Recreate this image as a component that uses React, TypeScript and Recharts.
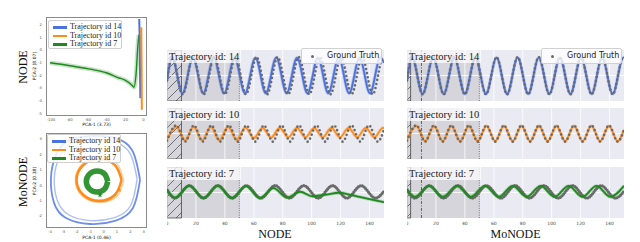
import React from 'react';
import { ComposedChart, Line, XAxis, YAxis, ReferenceArea, ReferenceLine, Scatter, ZAxis } from 'recharts';

// ---------- tick labels ----------
const timeTicks = [0, 20, 40, 60, 80, 100, 120, 140];
const pcaTopXTicks = [-100, -80, -60, -40, -20, 0];
const pcaTopYTicks = [2, 1, 0, -1, -2, -3, -4, -5];
const pcaBotXTicks = [-4, -3, -2, -1, 0, 1, 2, 3];
const pcaBotYTicks = [3, 2, 1, 0, -1, -2];

// ---------- time series (t, value) : extremes ----------
const gt14: [number, number][] = [[0,-0.2],[3.5,0.72],[10.8,-0.74],[18.1,0.72],[25.4,-0.74],[32.7,0.72],[40,-0.74],[47.3,0.72],[54.6,-0.74],[61.9,0.72],[69.2,-0.74],[76.5,0.72],[83.8,-0.74],[91.1,0.72],[98.4,-0.74],[105.7,0.72],[113,-0.74],[120.3,0.72],[127.6,-0.74],[134.9,0.72],[142.2,-0.74],[149.5,0.72],[150,0.71]];
const nodePred14: [number, number][] = [[0,-0.22],[3.5,0.7],[10.7,-0.7],[17.9,0.7],[25.1,-0.7],[32.3,0.7],[39.5,-0.7],[46.7,0.7],[53.9,-0.7],[61.1,0.7],[68.3,-0.7],[75.5,0.7],[82.7,-0.7],[89.9,0.7],[97.1,-0.7],[104.3,0.7],[111.5,-0.7],[118.7,0.7],[125.9,-0.7],[133.1,0.7],[140.3,-0.7],[147.5,0.7],[150,0.5]];
const moPred14: [number, number][] = [[0,-0.2],[3.5,0.7],[10.8,-0.72],[18.1,0.7],[25.4,-0.72],[32.7,0.7],[40,-0.72],[47.3,0.7],[54.6,-0.72],[61.9,0.7],[69.2,-0.72],[76.5,0.7],[83.8,-0.72],[91.1,0.7],[98.4,-0.72],[105.7,0.7],[113,-0.72],[120.3,0.7],[127.6,-0.72],[134.9,0.7],[142.2,-0.72],[149.5,0.7],[150,0.69]];

const gt10: [number, number][] = [[0,-0.28],[6.5,0.32],[12.55,-0.32],[18.6,0.32],[24.65,-0.32],[30.7,0.32],[36.75,-0.32],[42.8,0.32],[48.85,-0.32],[54.9,0.32],[60.95,-0.32],[67,0.32],[73.05,-0.32],[79.1,0.32],[85.15,-0.32],[91.2,0.32],[97.25,-0.32],[103.3,0.32],[109.35,-0.32],[115.4,0.32],[121.45,-0.32],[127.5,0.32],[133.55,-0.32],[139.6,0.32],[145.65,-0.32],[150,0.15]];
const nodePred10: [number, number][] = [[0,-0.25],[6.5,0.27],[12.45,-0.27],[18.4,0.27],[24.35,-0.27],[30.3,0.27],[36.25,-0.27],[42.2,0.27],[48.15,-0.25],[54.1,0.24],[60.05,-0.18],[66,0.22],[71.95,-0.16],[77.9,0.22],[83.85,-0.15],[89.8,0.22],[95.75,-0.15],[101.7,0.22],[107.65,-0.15],[113.6,0.22],[119.55,-0.15],[125.5,0.22],[131.45,-0.15],[137.4,0.22],[143.35,-0.15],[149.3,0.22],[150,0.21]];
const moPred10: [number, number][] = [[0,-0.25],[6.5,0.3],[12.55,-0.3],[18.6,0.3],[24.65,-0.3],[30.7,0.3],[36.75,-0.3],[42.8,0.3],[48.85,-0.3],[54.9,0.3],[60.95,-0.3],[67,0.3],[73.05,-0.3],[79.1,0.3],[85.15,-0.3],[91.2,0.3],[97.25,-0.3],[103.3,0.3],[109.35,-0.3],[115.4,0.3],[121.45,-0.3],[127.5,0.3],[133.55,-0.3],[139.6,0.3],[145.65,-0.3],[150,0.14]];

const gt7: [number, number][] = [[0,0.1],[5.5,-0.22],[15.4,0.27],[25.3,-0.22],[35.2,0.27],[45.1,-0.22],[55,0.27],[64.9,-0.22],[74.8,0.27],[84.7,-0.22],[94.6,0.27],[104.5,-0.22],[114.4,0.27],[124.3,-0.22],[134.2,0.27],[144.1,-0.22],[150,0.05]];
const nodePred7: [number, number][] = [[0,0.12],[5.5,-0.2],[15.4,0.27],[25.2,-0.22],[35,0.27],[44.8,-0.22],[54.5,0.25],[64.2,-0.22],[73.5,0.17],[83,-0.2],[92,0.03],[100.5,-0.15],[110,-0.08],[119,-0.01],[126,-0.08],[133,-0.17],[140,-0.26],[150,-0.38]];
const moPred7: [number, number][] = [[0,0.13],[5.5,-0.17],[15.2,0.26],[24.8,-0.17],[34.5,0.26],[44.1,-0.17],[53.8,0.26],[63.4,-0.17],[73.1,0.26],[82.7,-0.17],[92.4,0.26],[102,-0.17],[111.7,0.26],[121.3,-0.17],[131,0.26],[140.6,-0.17],[150,0.26]];

// ---------- PCA trajectories (pca1, pca2) ----------
const nodeGreen: [number, number][] = [[-101,-1.0],[-84,-1.18],[-65,-1.42],[-47,-1.66],[-39.5,-1.81],[-27.6,-2.17],[-20,-2.37],[-12.4,-2.77],[-10.3,-2.93],[-8.1,-1.97],[-6,0.41],[-4.9,1.2]];
const nodeBlue: [number, number][] = [[-4.6,2.45],[-4.3,1.6],[-4.0,0.4],[-3.8,-1.2],[-3.6,-2.6],[-3.4,-3.8]];
const nodeOrange: [number, number][] = [[-2.4,1.8],[-2.2,0.2],[-2.0,-1.5],[-1.9,-3.2],[-1.8,-4.7]];

const moBlueA: [number, number][] = [[2.72,0.34],[2.12,2.29],[0.85,3.07],[-0.64,3.2],[-2.51,2.94],[-3.55,1.96],[-3.93,0.47],[-3.7,-1.15],[-2.81,-2.13],[-1.02,-2.52],[0.85,-2.32],[2.19,-1.48],[2.72,0.34]];
const moBlueB: [number, number][] = [[2.5,0.4],[1.95,2.1],[0.75,2.85],[-0.65,2.98],[-2.35,2.75],[-3.3,1.85],[-3.68,0.45],[-3.45,-1.0],[-2.62,-1.92],[-0.98,-2.3],[0.75,-2.12],[2.0,-1.35],[2.5,0.4]];
const moOrangeA: [number, number][] = [[1.34,0.34],[0.85,1.3],[-0.34,1.7],[-1.53,1.3],[-2.02,0.34],[-1.53,-0.62],[-0.34,-1.02],[0.85,-0.62],[1.34,0.34]];
const moOrangeB: [number, number][] = [[1.5,0.3],[1.0,1.4],[-0.3,1.82],[-1.6,1.38],[-2.12,0.3],[-1.6,-0.7],[-0.3,-1.12],[1.0,-0.72],[1.5,0.3]];
const moGreen: [number, number][] = [[0.31,0.24],[0.08,0.72],[-0.49,0.92],[-1.06,0.72],[-1.29,0.24],[-1.06,-0.24],[-0.49,-0.44],[0.08,-0.24],[0.31,0.24]];
const moEndOrange: [number, number][] = [[1.15,-0.31]];
const moEndGreen: [number, number][] = [[-0.27,-0.64]];

const legendItems = [
  { label: 'Trajectory id 14', color: '#4a72e2' },
  { label: 'Trajectory id 10', color: '#ff8c1a' },
  { label: 'Trajectory id 7', color: '#1e8a1e' },
];

const BLUE = '#4a72e2';
const ORANGE = '#ff8c1a';
const GREEN = '#1e8a1e';
const GT = '#6a6a6a';

const tsRows = (p: [number, number][]) => p.map(([t, v]) => ({ t, v }));
const xyRows = (p: [number, number][]) => p.map(([x, y]) => ({ x, y }));

const SERIF = '"Liberation Serif", "Times New Roman", serif';
const SANS = '"DejaVu Sans", sans-serif';

type PanelProps = {
  left: number; top: number; showAxis: boolean; gt: [number, number][]; pred: [number, number][];
  color: string; label: string; hatchEnd: number; dashDot: boolean; legend: boolean; gtOnTop: boolean; thickGt: boolean;
};

function Panel(p: PanelProps) {
  const h = 51 + (p.showAxis ? 12 : 0);
  const gtLine = (
    <Line key="gt" data={tsRows(p.gt)} dataKey="v" type="monotone" stroke={GT}
      strokeWidth={p.thickGt ? 3.2 : 2.6} strokeDasharray={p.thickGt ? '0 2.2' : '0 4.2'} strokeLinecap="round"
      dot={false} isAnimationActive={false} />
  );
  const predLines = [
    <Line key="pw" data={tsRows(p.pred)} dataKey="v" type="monotone" stroke={p.color} strokeOpacity={0.3}
      strokeWidth={3.4} dot={false} isAnimationActive={false} />,
    <Line key="p" data={tsRows(p.pred)} dataKey="v" type="monotone" stroke={p.color}
      strokeWidth={1.8} dot={false} isAnimationActive={false} />,
  ];
  return (
    <div style={{ position: 'absolute', left: p.left, top: p.top, width: 217, height: h }}>
      <ComposedChart width={217} height={h} margin={{ top: 0, right: 0, bottom: 0, left: 0 }}>
        <XAxis dataKey="t" type="number" domain={[0, 150]} ticks={timeTicks} hide={!p.showAxis} height={12}
          tickSize={0} tickMargin={4} axisLine={false} interval={0} allowDataOverflow
          tick={{ fontSize: 4.5, fill: '#444', fontFamily: SANS }} />
        <YAxis type="number" domain={[-1, 1]} hide allowDataOverflow />
        <ReferenceArea x1={0} x2={150} fill="#EAEAF2" fillOpacity={1} stroke="none" />
        {timeTicks.map((v) => (
          <ReferenceLine key={'g' + v} x={v} stroke="#ffffff" strokeWidth={0.8} />
        ))}
        <ReferenceLine y={0} stroke="#ffffff" strokeWidth={0.8} />
        <ReferenceArea x1={0} x2={50} fill="#808080" fillOpacity={0.2} stroke="none" />
        <ReferenceArea x1={0} x2={p.hatchEnd} fill="url(#hatchPat)" fillOpacity={1} stroke="#333" strokeWidth={0.7} />
        <ReferenceLine x={50} stroke="#555" strokeWidth={0.8} strokeDasharray="1 1.3" />
        {p.dashDot && <ReferenceLine x={10} stroke="#444" strokeWidth={0.8} strokeDasharray="3 1.5 1 1.5" />}
        {p.gtOnTop ? predLines : gtLine}
        {p.gtOnTop ? gtLine : predLines}
      </ComposedChart>
      <div style={{ position: 'absolute', left: 0, top: 0, width: 74, height: 13, background: 'rgba(255,255,255,0.72)',
        fontFamily: SERIF, fontSize: 10.5, lineHeight: '13px', paddingLeft: 2, boxSizing: 'border-box', color: '#222', whiteSpace: 'nowrap' }}>
        {p.label}
      </div>
      {p.legend && (
        <div style={{ position: 'absolute', left: 134, top: -2, width: 81, height: 16, background: 'rgba(255,255,255,0.8)',
          border: '1px solid #d0d0d0', borderRadius: 2, boxSizing: 'border-box' }}>
          <div style={{ position: 'absolute', left: 9, top: 5.5, width: 3, height: 3, borderRadius: 2, background: GT }} />
          <div style={{ position: 'absolute', left: 25, top: 1, fontFamily: SANS, fontSize: 8, lineHeight: '12px', color: '#222', whiteSpace: 'nowrap' }}>
            Ground Truth
          </div>
        </div>
      )}
    </div>
  );
}

type PcaProps = {
  top: number; plotH: number; xDomain: [number, number]; yDomain: [number, number];
  xTicks: number[]; yTicks: number[]; children: React.ReactNode;
};

function Pca(p: PcaProps) {
  return (
    <div style={{ position: 'absolute', left: 20, top: p.top, width: 128, height: p.plotH + 12 }}>
      <div style={{ position: 'absolute', left: 26, top: 0, width: 101, height: p.plotH, border: '1px solid #8a8a8a', boxSizing: 'border-box', background: '#fff' }} />
      <div style={{ position: 'absolute', left: 0, top: 0 }}>
        <ComposedChart width={128} height={p.plotH + 12} margin={{ top: 0, right: 1, bottom: 0, left: 0 }}>
          <XAxis dataKey="x" type="number" domain={p.xDomain} ticks={p.xTicks} height={12} tickSize={0} tickMargin={2}
            axisLine={false} interval={0} allowDataOverflow tick={{ fontSize: 3.8, fill: '#555', fontFamily: SANS }} />
          <YAxis type="number" domain={p.yDomain} ticks={p.yTicks} width={26} tickSize={0} tickMargin={4}
            axisLine={false} interval={0} allowDataOverflow tick={{ fontSize: 3.8, fill: '#555', fontFamily: SANS }} />
          <ZAxis range={[10, 10]} />
          {p.children}
        </ComposedChart>
      </div>
    </div>
  );
}

function Legend({ left, top }: { left: number; top: number }) {
  return (
    <div style={{ position: 'absolute', left, top, width: 74, height: 29, background: 'rgba(255,255,255,0.85)',
      border: '1px solid #cfcfcf', borderRadius: 2, boxSizing: 'border-box' }}>
      {legendItems.map((it, i) => (
        <div key={it.label} style={{ position: 'absolute', left: 3, top: 2 + i * 8.6, height: 8, width: 70 }}>
          <div style={{ position: 'absolute', left: 1, top: 3, width: 14, height: 2.6, background: it.color }} />
          <div style={{ position: 'absolute', left: 18, top: -1, fontFamily: SERIF, fontSize: 8, lineHeight: '10px', color: '#222', whiteSpace: 'nowrap' }}>
            {it.label}
          </div>
        </div>
      ))}
    </div>
  );
}

function RotLabel({ cx, cy, text, size, family }: { cx: number; cy: number; text: string; size: number; family: string }) {
  return (
    <div style={{ position: 'absolute', left: cx, top: cy, transform: 'translate(-50%, -50%) rotate(-90deg)',
      fontFamily: family, fontSize: size, lineHeight: 1, whiteSpace: 'nowrap', color: '#111' }}>
      {text}
    </div>
  );
}

function CenterLabel({ cx, cy, text, size, family }: { cx: number; cy: number; text: string; size: number; family: string }) {
  return (
    <div style={{ position: 'absolute', left: cx, top: cy, transform: 'translate(-50%, -50%)',
      fontFamily: family, fontSize: size, lineHeight: 1, whiteSpace: 'nowrap', color: '#111' }}>
      {text}
    </div>
  );
}

export default function App() {
  const panels = [
    { gtOnTop: true, thickGt: false, label: 'Trajectory id: 14', color: BLUE, legend: true },
    { gtOnTop: true, thickGt: false, label: 'Trajectory id: 10', color: ORANGE, legend: false },
    { gtOnTop: false, thickGt: true, label: 'Trajectory id: 7', color: GREEN, legend: false },
  ];
  const tops = [50, 108, 167];
  const nodeSeries = [[gt14, nodePred14], [gt10, nodePred10], [gt7, nodePred7]] as [number, number][][][];
  const moSeries = [[gt14, moPred14], [gt10, moPred10], [gt7, moPred7]] as [number, number][][][];
  return (
    <div style={{ position: 'absolute', left: 0, top: 0, width: 640, height: 242, background: '#fff', overflow: 'hidden' }}>
      <svg width={0} height={0} style={{ position: 'absolute' }}>
        <defs>
          <pattern id="hatchPat" patternUnits="userSpaceOnUse" width={10} height={10}>
            <path d="M0,10 L10,0 M-2,2 L2,-2 M8,12 L12,8" stroke="#444" strokeWidth={0.7} />
          </pattern>
        </defs>
      </svg>

      {/* PCA NODE */}
      <Pca top={17} plotH={99} xDomain={[-105.4, 3.8]} yDomain={[-5.2, 2.6]} xTicks={pcaTopXTicks} yTicks={pcaTopYTicks}>
        <Line data={xyRows(nodeGreen)} dataKey="y" type="monotone" stroke={GREEN} strokeOpacity={0.25} strokeWidth={4.5} dot={false} isAnimationActive={false} />
        <Line data={xyRows(nodeGreen)} dataKey="y" type="monotone" stroke={GREEN} strokeWidth={1.4} dot={false} isAnimationActive={false} />
        <Line data={xyRows(nodeBlue)} dataKey="y" type="linear" stroke={BLUE} strokeWidth={2} dot={false} isAnimationActive={false} />
        <Line data={xyRows(nodeOrange)} dataKey="y" type="linear" stroke={ORANGE} strokeWidth={2} dot={false} isAnimationActive={false} />
      </Pca>
      <Legend left={48} top={20} />
      <RotLabel cx={34.5} cy={66} text="PCA-2 (8.07)" size={4.5} family={SANS} />
      <CenterLabel cx={96.5} cy={124.5} text="PCA-1 (3.73)" size={4.5} family={SANS} />
      <RotLabel cx={23} cy={67} text="NODE" size={12} family={SERIF} />

      {/* PCA MoNODE */}
      <Pca top={133} plotH={95} xDomain={[-4.3, 3.24]} yDomain={[-2.78, 3.39]} xTicks={pcaBotXTicks} yTicks={pcaBotYTicks}>
        <Line data={xyRows(moBlueB)} dataKey="y" type="natural" stroke={BLUE} strokeOpacity={0.45} strokeWidth={1.4} dot={false} isAnimationActive={false} />
        <Line data={xyRows(moBlueA)} dataKey="y" type="natural" stroke={BLUE} strokeOpacity={0.8} strokeWidth={1.8} dot={false} isAnimationActive={false} />
        <Line data={xyRows(moOrangeB)} dataKey="y" type="natural" stroke={ORANGE} strokeOpacity={0.45} strokeWidth={1.2} dot={false} isAnimationActive={false} />
        <Line data={xyRows(moOrangeA)} dataKey="y" type="natural" stroke={ORANGE} strokeWidth={2.6} dot={false} isAnimationActive={false} />
        <Line data={xyRows(moGreen)} dataKey="y" type="natural" stroke={GREEN} strokeOpacity={0.9} strokeWidth={5.5} dot={false} isAnimationActive={false} />
        <Scatter data={xyRows(moEndOrange)} dataKey="y" fill={ORANGE} shape="square" isAnimationActive={false} />
        <Scatter data={xyRows(moEndGreen)} dataKey="y" fill={GREEN} shape="star" isAnimationActive={false} />
      </Pca>
      <Legend left={47} top={134} />
      <RotLabel cx={34.5} cy={181} text="PCA-2 (0.38)" size={4.5} family={SANS} />
      <CenterLabel cx={96.5} cy={238} text="PCA-1 (0.46)" size={4.5} family={SANS} />
      <RotLabel cx={23} cy={182} text="MoNODE" size={12} family={SERIF} />

      {/* time series */}
      {panels.map((pn, i) => (
        <Panel key={'n' + i} left={167} top={tops[i]} showAxis={i === 2} gt={nodeSeries[i][0]} pred={nodeSeries[i][1]}
          color={pn.color} label={pn.label} hatchEnd={10} dashDot={false} legend={pn.legend} gtOnTop={pn.gtOnTop} thickGt={pn.thickGt} />
      ))}
      {panels.map((pn, i) => (
        <Panel key={'m' + i} left={407} top={tops[i]} showAxis={i === 2} gt={moSeries[i][0]} pred={moSeries[i][1]}
          color={pn.color} label={pn.label} hatchEnd={2.5} dashDot={true} legend={pn.legend} gtOnTop={pn.gtOnTop} thickGt={pn.thickGt} />
      ))}
      <CenterLabel cx={275} cy={233.5} text="NODE" size={12} family={SERIF} />
      <CenterLabel cx={515.5} cy={233.5} text="MoNODE" size={12} family={SERIF} />
    </div>
  );
}
